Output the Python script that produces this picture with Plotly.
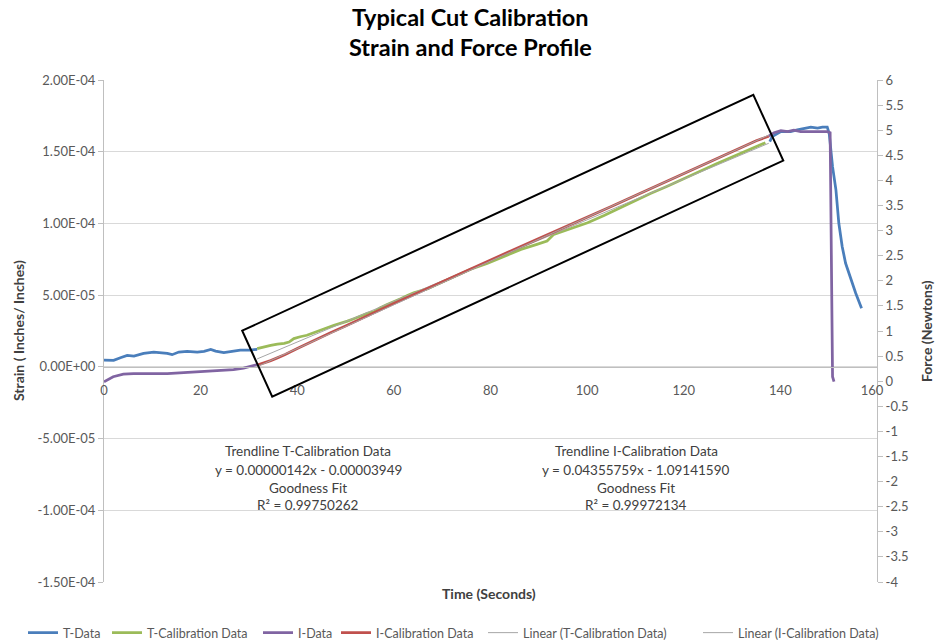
import plotly.graph_objects as go

# ---------------- data ----------------
t_data_time = [0, 2.0, 3.4, 4.8, 6.2, 8.2, 10.3, 11.7, 13.1, 14.1, 15.5, 17.2, 19.3, 20.7, 22.1,
               23.1, 24.8, 26.5, 28.2, 30.3, 31.7, None,
               137.8, 138.3, 140.1, 142.1, 143.5, 144.9, 146.3, 147.7, 148.7, 149.7, 150.1,
               150.8, 151.5, 152.1, 152.8, 153.5, 154.6, 155.6, 156.8]
t_data_strain = [4.7e-6, 4.5e-6, 6.4e-6, 8.0e-6, 7.5e-6, 9.4e-6, 1.03e-5, 9.9e-6, 9.4e-6, 8.5e-6,
                 1.03e-5, 1.08e-5, 1.03e-5, 1.08e-5, 1.22e-5, 1.10e-5, 9.9e-6, 1.08e-5, 1.17e-5,
                 1.17e-5, 1.22e-5, None,
                 1.57e-4, 1.605e-4, 1.640e-4, 1.640e-4, 1.652e-4, 1.664e-4, 1.671e-4, 1.664e-4,
                 1.671e-4, 1.671e-4, 1.629e-4, 1.396e-4, 1.234e-4, 1.001e-4, 8.38e-5, 7.22e-5,
                 6.06e-5, 5.13e-5, 4.09e-5]

t_cal_time = [31.7, 33.1, 34.5, 35.9, 37.3, 38.3, 39.3, 40.6, 42.0, 43.4, 44.8, 46.2, 47.6, 49.0,
              50.4, 51.7, 53.1, 54.5, 55.9, 57.2, 58.6, 60.0, 61.4, 62.8, 64.1, 65.5, 67.0, 68.9,
              72.4, 75.9, 79.3, 82.8, 86.3, 89.6, 91.7, 93.1, 96.6, 100.1, 103.5, 106.2, 109.7,
              113.1, 116.6, 120.0, 123.5, 126.9, 130.4, 133.9, 136.9]
t_cal_strain = [1.27e-5, 1.41e-5, 1.50e-5, 1.59e-5, 1.64e-5, 1.73e-5, 1.97e-5, 2.10e-5, 2.20e-5,
                2.38e-5, 2.57e-5, 2.73e-5, 2.89e-5, 3.03e-5, 3.19e-5, 3.36e-5, 3.54e-5, 3.73e-5,
                3.85e-5, 4.13e-5, 4.34e-5, 4.52e-5, 4.75e-5, 4.98e-5, 5.17e-5, 5.30e-5, 5.45e-5,
                5.75e-5, 6.29e-5, 6.80e-5, 7.21e-5, 7.68e-5, 8.19e-5, 8.54e-5, 8.77e-5, 9.24e-5,
                9.63e-5, 1.005e-4, 1.055e-4, 1.10e-4, 1.156e-4, 1.209e-4, 1.26e-4, 1.31e-4,
                1.365e-4, 1.418e-4, 1.469e-4, 1.516e-4, 1.563e-4]

i_data_time = [0, 0.6, 1.9, 4.0, 6.1, 9.6, 13.1, 16.5, 20.0, 23.4, 26.8, 28.9, 30.3, 31.7, None,
               137.6, 138.7, 140.1, 141.5, 142.8, 144.2, 147.0, 149.7, 150.3, 150.8, 151.1]
i_data_force = [-0.01, 0.02, 0.09, 0.14, 0.15, 0.15, 0.15, 0.17, 0.19, 0.21, 0.23, 0.26, 0.30,
                0.33, None,
                4.88, 4.95, 4.99, 4.97, 5.0, 4.97, 4.97, 4.97, 4.95, 0.09, -0.01]

i_cal_time = [31.7, 33.0, 34.5, 36.0, 37.5, 40.0, 43.4, 47.0, 50.0, 55.0, 60.0, 65.0, 70.0, 75.0,
              80.0, 85.0, 90.0, 95.0, 100.0, 105.0, 110.0, 115.0, 120.0, 125.0, 130.0, 135.0,
              137.6]
i_cal_force = [0.32, 0.36, 0.41, 0.47, 0.53, 0.65, 0.81, 0.97, 1.10, 1.33, 1.55, 1.76, 1.98, 2.19,
               2.41, 2.63, 2.84, 3.05, 3.27, 3.48, 3.70, 3.92, 4.14, 4.35, 4.57, 4.79, 4.88]

# linear trendlines (from the chart's fit equations)
t_fit_slope, t_fit_intercept = 0.00000142, -0.00003949
i_fit_slope, i_fit_intercept = 0.04355759, -1.09141590
trend_time = [31.7, 137.6]

strain_ticks = [2e-4, 1.5e-4, 1e-4, 5e-5, 0, -5e-5, -1e-4, -1.5e-4]
strain_tick_text = ["2.00E-04", "1.50E-04", "1.00E-04", "5.00E-05", "0.00E+00",
                    "-5.00E-05", "-1.00E-04", "-1.50E-04"]
force_ticks = [6, 5.5, 5, 4.5, 4, 3.5, 3, 2.5, 2, 1.5, 1, 0.5, 0, -0.5, -1, -1.5, -2,
               -2.5, -3, -3.5, -4]
force_tick_text = ["6", "5.5", "5", "4.5", "4", "3.5", "3", "2.5", "2", "1.5", "1", "0.5", "0",
                   "-0.5", "-1", "-1.5", "-2", "-2.5", "-3", "-3.5", "-4"]
time_ticks = [0, 20, 40, 60, 80, 100, 120, 140, 160]
time_tick_text = ["0", "20", "40", "60", "80", "100", "120", "140", "160\u00a0\u00a0\u00a0"]

series_names = ["T-Data", "T-Calibration Data", "I-Data", "I-Calibration Data",
                "Linear (T-Calibration Data)", "Linear (I-Calibration Data)"]

# ---------------- figure ----------------
FONT = "Lato"
TICKC = "#595959"
AXC = "#bfbfbf"

legend_ids = ["legend", "legend2", "legend3", "legend4", "legend5", "legend6"]
legend_px = [28, 112, 263, 341, 488, 703]   # left edge of each legend entry (pixels)

fig = go.Figure()
fig.add_trace(go.Scatter(x=t_data_time, y=t_data_strain, mode="lines", name=series_names[0],
                         line=dict(color="#4a7ebb", width=2.75), yaxis="y", legend=legend_ids[0]))
fig.add_trace(go.Scatter(x=t_cal_time, y=t_cal_strain, mode="lines", name=series_names[1],
                         line=dict(color="#9bbb59", width=2.75), yaxis="y", legend=legend_ids[1]))
fig.add_trace(go.Scatter(x=i_data_time, y=i_data_force, mode="lines", name=series_names[2],
                         line=dict(color="#8064a2", width=2.75), yaxis="y2", legend=legend_ids[2]))
fig.add_trace(go.Scatter(x=i_cal_time, y=i_cal_force, mode="lines", name=series_names[3],
                         line=dict(color="#c0504d", width=2.75), yaxis="y2", legend=legend_ids[3]))
fig.add_trace(go.Scatter(x=trend_time, y=[t_fit_slope * t + t_fit_intercept for t in trend_time],
                         mode="lines", name=series_names[4],
                         line=dict(color="#a6a6a6", width=1), yaxis="y", legend=legend_ids[4]))
fig.add_trace(go.Scatter(x=trend_time, y=[i_fit_slope * t + i_fit_intercept for t in trend_time],
                         mode="lines", name=series_names[5],
                         line=dict(color="#a6a6a6", width=1), yaxis="y2", legend=legend_ids[5]))

# highlight box (rotated rectangle)
fig.add_shape(type="path", xref="x", yref="y",
              path="M 28.61,2.524e-5 L 134.4,1.896e-4 L 140.6,1.438e-4 L 34.82,-2.078e-5 Z",
              line=dict(color="black", width=2), fillcolor="rgba(0,0,0,0)")

legend_layout = {}
for lid, px in zip(legend_ids, legend_px):
    legend_layout[lid] = dict(orientation="h", xref="container", yref="container",
                              x=(px - 5) / 939, xanchor="left", y=1 - 633 / 643,
                              yanchor="middle", font=dict(size=12.5, color=TICKC),
                              itemwidth=30, bgcolor="rgba(0,0,0,0)", borderwidth=0)

fig.update_layout(
    width=939, height=643,
    margin=dict(l=104, r=62, t=80, b=61, autoexpand=False),
    paper_bgcolor="white", plot_bgcolor="white",
    font=dict(family=FONT, size=12, color=TICKC),
    xaxis=dict(range=[0, 160], tickvals=time_ticks, ticktext=time_tick_text, showgrid=False,
               zeroline=False, showline=True, linecolor=AXC, linewidth=1, anchor="free",
               position=1.5 / 3.5, ticks="", ticklabelstandoff=12,
               tickfont=dict(size=13, color=TICKC)),
    yaxis=dict(range=[-1.5e-4, 2e-4], tickvals=strain_ticks, ticktext=strain_tick_text,
               showgrid=True, gridcolor="#d9d9d9", gridwidth=1, zeroline=False,
               showline=True, linecolor=AXC, ticks="outside", ticklen=5, tickcolor=AXC,
               tickfont=dict(size=13, color=TICKC), domain=[0, 1]),
    yaxis2=dict(range=[-4, 6], tickvals=force_ticks, ticktext=force_tick_text,
                overlaying="y", side="right", showgrid=False, zeroline=False,
                showline=True, linecolor=AXC, ticks="outside", ticklen=5, tickcolor=AXC,
                tickfont=dict(size=13, color=TICKC)),
    showlegend=True,
    **legend_layout,
)

ann = []
def add_text(txt, px, py, size, color="#404040", angle=0):
    ann.append(dict(text=txt, x=(px - 104) / 773, y=(582 - py) / 502, xref="paper",
                    yref="paper", showarrow=False, xanchor="center", yanchor="middle",
                    textangle=angle, font=dict(family=FONT, size=size, color=color)))

add_text("<b>Typical Cut Calibration</b>", 470, 17, 23.5, "black")
add_text("<b>Strain and Force Profile</b>", 470, 47, 23.5, "black")
add_text("<b>Strain ( Inches/ Inches)</b>", 18, 331, 14, angle=-90)
add_text("<b>Force (Newtons)</b>", 926, 331, 14, angle=-90)
add_text("<b>Time (Seconds)</b>", 489, 593, 14)

left_lines = ["Trendline T-Calibration Data", "y = 0.00000142x - 0.00003949", "Goodness Fit",
              "R² = 0.99750262"]
right_lines = ["Trendline I-Calibration Data", "y = 0.04355759x - 1.09141590", "Goodness Fit",
               "R² = 0.99972134"]
line_y = [451, 470, 488, 505]
for txt, py in zip(left_lines, line_y):
    add_text(txt, 308, py, 13.5)
for txt, py in zip(right_lines, line_y):
    add_text(txt, 636, py, 13.5)
fig.update_layout(annotations=ann)

fig.write_html("out.html", config={"displayModeBar": False},
               post_script="document.body.style.margin='0px';")
